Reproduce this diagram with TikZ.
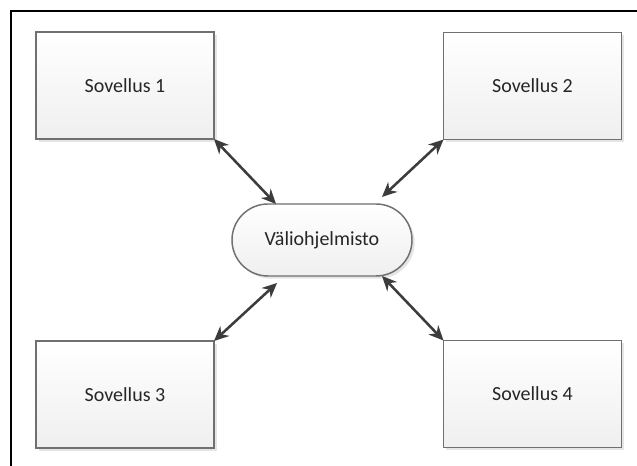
\documentclass[tikz,border=0pt]{standalone}
\usepackage{fontspec}
\setmainfont{Carlito}
\usetikzlibrary{arrows.meta,shadows,shapes.misc}
\definecolor{edgegray}{HTML}{707070}
\definecolor{arrowgray}{HTML}{3C3C3C}
\definecolor{fillbottom}{HTML}{EFEFEF}
\tikzset{
  appbox/.style={draw=edgegray, line width=1.1pt, rectangle, inner sep=0pt, outer sep=0pt,
    minimum width=133.5pt, minimum height=80.25pt,
    top color=white, bottom color=fillbottom,
    drop shadow={shadow xshift=2pt, shadow yshift=-2pt, fill=black!10, opacity=1},
    font=\fontsize{15}{18}\selectfont, text=black!85},
  midbox/.style={appbox, rounded rectangle, minimum width=135pt, minimum height=54pt},
  link/.style={draw=arrowgray, line width=1.9pt,
    {Stealth[length=11pt,width=10pt]}-{Stealth[length=11pt,width=10pt]}}
}
\begin{document}
\begin{tikzpicture}[x=0.75pt, y=-0.75pt]
\useasboundingbox[fill=white] (0,0) rectangle (637,466);
\draw[line width=1.5pt] (637,11.5) -- (10.5,11.5) -- (10.5,466);
\node[appbox] (b1) at (125,85.5) {Sovellus 1};
\node[appbox] (b2) at (532.5,86) {Sovellus 2};
\node[appbox] (b3) at (125,394.5) {Sovellus 3};
\node[appbox] (b4) at (532.5,394) {Sovellus 4};
\node[midbox] (m) at (322,240) {Väliohjelmisto};
\coordinate (e1) at (276,204);
\coordinate (e2) at (382,197);
\coordinate (e3) at (277,283);
\coordinate (e4) at (382,276);
\draw[link] (b1.south east) -- (e1);
\draw[link] (b2.south west) -- (e2);
\draw[link] (b3.north east) -- (e3);
\draw[link] (b4.north west) -- (e4);
\end{tikzpicture}
\end{document}
